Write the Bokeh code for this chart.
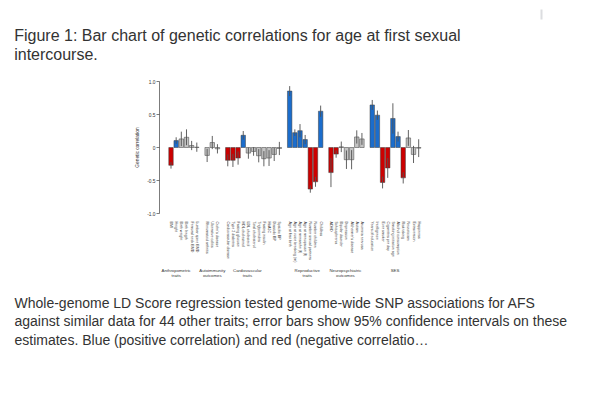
from bokeh.plotting import figure
from bokeh.models import Range1d, FixedTicker, Label, BoxAnnotation
from bokeh.embed import file_html
from bokeh.resources import INLINE

# ---------------- data ----------------
group_names = ["Anthropometric\ntraits", "Autoimmunity\noutcomes", "Cardiovascular\ntraits",
               "Reproductive\ntraits", "Neuropsychiatric\noutcomes", "SES"]
group_sizes = [6, 3, 11, 7, 7, 10]

trait_labels = [
    "BMI", "Height", "Birth weight", "Birth length", "Femoral neck BMD", "Lumbar spine BMD",
    "Rheumatoid arthritis", "Ulcerative colitis", "Crohn's disease",
    "Cardiovascular disease", "Type 2 diabetes", "Fasting glucose", "HDL cholesterol",
    "LDL cholesterol", "Total cholesterol", "Triglycerides", "Fasting insulin", "HbA1C",
    "Diastolic BP", "Systolic BP",
    "Age at first birth", "Age at voice breaking (m)", "Age at menarche (f)",
    "Age at menopause (f)", "Number sexual partners", "Number children", "Childless",
    "ADHD", "Schizophrenia", "Bipolar disorder", "Depression", "Alzheimer's disease",
    "Autism", "Anorexia nervosa",
    "Years of education", "Intelligence", "Ever smoker", "Cigarettes per day",
    "Smoking initiation age", "Alcohol consumption", "Risk taking", "Neuroticism",
    "Extraversion", "Happiness",
]

rg = [
    -0.27, 0.105, 0.13, 0.155, 0.03, 0.005,
    -0.12, 0.075, -0.02,
    -0.195, -0.195, -0.16, 0.185, -0.085, -0.06, -0.125, -0.17, -0.16, -0.105, -0.015,
    0.855, 0.225, 0.255, 0.12, -0.63, -0.52, 0.55,
    -0.38, -0.10, 0.01, -0.185, -0.185, 0.16, 0.13,
    0.645, 0.49, -0.53, -0.31, 0.44, 0.165, -0.46, 0.145, -0.105, -0.01,
]

ci95 = [
    0.05, 0.05, 0.11, 0.12, 0.07, 0.07,
    0.10, 0.10, 0.07,
    0.09, 0.10, 0.10, 0.065, 0.085, 0.065, 0.10, 0.115, 0.12, 0.10, 0.10,
    0.075, 0.05, 0.10, 0.07, 0.055, 0.075, 0.085,
    0.22, 0.055, 0.08, 0.14, 0.145, 0.10, 0.09,
    0.075, 0.07, 0.09, 0.15, 0.23, 0.075, 0.085, 0.12, 0.13, 0.135,
]

# "+" significant positive, "-" significant negative, "0" not significant
signif = [
    "-", "+", "0", "0", "0", "0",
    "0", "0", "0",
    "-", "-", "-", "+", "0", "0", "0", "0", "0", "0", "0",
    "+", "+", "+", "+", "-", "-", "+",
    "-", "-", "0", "0", "0", "0", "0",
    "+", "+", "-", "-", "+", "+", "-", "0", "0", "0",
]

y_ticks = [-1.0, -0.5, 0.0, 0.5, 1.0]
y_tick_labels = ["-1.0", "-0.5", "0", "0.5", "1.0"]

title_lines = ["Figure 1: Bar chart of genetic correlations for age at first sexual",
               "intercourse."]
caption_lines = [
    "Whole-genome LD Score regression tested genome-wide SNP associations for AFS",
    "against similar data for 44 other traits; error bars show 95% confidence intervals on these",
    "estimates. Blue (positive correlation) and red (negative correlatio\u2026",
]

# ---------------- layout helpers ----------------
slots = []
pos = 0
for size in group_sizes:
    for _ in range(size):
        slots.append(pos)
        pos += 1
    pos += 1  # gap between groups
group_label_x = [1.0, 8.0, 14.8, 26.4, 33.8, 43.4]

color_map = {"+": "#1b6dcc", "-": "#cc0000", "0": "#c4c4c4"}
colors = [color_map[s] for s in signif]
lo = [r - c for r, c in zip(rg, ci95)]
hi = [r + c for r, c in zip(rg, ci95)]

FONT = "Liberation Sans"
TXT = "#333333"
W = 592
H_TOP, H_CHART, H_BOT = 62, 203, 139

# chart frame: page x 159..430, y 81..214
X0, X1 = -2.23, 50.29
FRAME_L, FRAME_W = 159, 271
px_per_unit = FRAME_W / (X1 - X0)


def text_panel(height, x_range=None):
    f = figure(width=W, height=height, output_backend="svg", toolbar_location=None,
               x_axis_type=None, y_axis_type=None,
               x_range=x_range if x_range is not None else Range1d(0, W),
               y_range=Range1d(0, height),
               min_border=0, min_border_left=0, min_border_right=0,
               min_border_top=0, min_border_bottom=0)
    f.outline_line_color = None
    f.background_fill_color = "white"
    f.border_fill_color = "white"
    return f


# ---------------- title panel ----------------
pt = text_panel(H_TOP)
for k, line in enumerate(title_lines):
    pt.add_layout(Label(x=13.7, y=H_TOP - 35.3 - k * 19.0, x_units="screen", y_units="screen",
                        text=line, text_font=FONT, text_font_size="16px",
                        text_color=TXT, text_align="left", text_baseline="alphabetic"))
pt.add_layout(BoxAnnotation(left=540, right=542, top=H_TOP - 9, bottom=H_TOP - 19,
                            left_units="screen", right_units="screen",
                            top_units="screen", bottom_units="screen",
                            fill_color="#dcdde0", fill_alpha=1.0, line_color=None))

# ---------------- chart ----------------
p = figure(width=W, height=H_CHART, output_backend="svg", toolbar_location=None,
           x_range=Range1d(X0, X1), y_range=Range1d(-1.0, 1.0),
           min_border_left=FRAME_L, min_border_top=81 - H_TOP,
           min_border_bottom=H_CHART - (81 - H_TOP) - 133,
           min_border_right=W - FRAME_L - FRAME_W)
p.outline_line_color = None
p.xgrid.grid_line_color = None
p.ygrid.grid_line_color = None
p.background_fill_color = "white"
p.border_fill_color = "white"

p.vbar(x=slots, top=rg, bottom=0, width=0.86, fill_color=colors,
       line_color="#3a3a3a", line_width=0.5)
p.segment(x0=slots, y0=lo, x1=slots, y1=hi, line_color="#505050", line_width=0.9)

ya = p.yaxis[0]
ya.ticker = FixedTicker(ticks=y_ticks)
ya.major_label_overrides = {t: l for t, l in zip(y_ticks, y_tick_labels)}
ya.minor_tick_line_color = None
ya.major_tick_out = 3
ya.major_tick_in = 0
ya.axis_line_color = "#444444"
ya.axis_line_width = 0.7
ya.major_tick_line_color = "#444444"
ya.major_tick_line_width = 0.7
ya.major_label_text_font = FONT
ya.major_label_text_font_size = "4.8px"
ya.major_label_text_color = TXT
ya.major_label_standoff = 1
ya.axis_label = "Genetic correlation"
ya.axis_label_text_font = FONT
ya.axis_label_text_font_size = "4.8px"
ya.axis_label_text_font_style = "normal"
ya.axis_label_text_color = TXT
ya.axis_label_standoff = 4

xa = p.xaxis[0]
xa.ticker = FixedTicker(ticks=slots)
xa.major_label_overrides = {s: l for s, l in zip(slots, trait_labels)}
xa.major_label_orientation = "vertical"
xa.axis_line_color = None
xa.major_tick_line_color = None
xa.minor_tick_line_color = None
xa.major_label_text_font = FONT
xa.major_label_text_font_size = "3.6px"
xa.major_label_text_color = TXT
xa.major_label_standoff = 2

# ---------------- bottom panel (group labels + caption) ----------------
bx0 = X0 - FRAME_L / px_per_unit
pb = text_panel(H_BOT, x_range=Range1d(bx0, bx0 + W / px_per_unit))
for gx, name in zip(group_label_x, group_names):
    for k, line in enumerate(name.split("\n")):
        pb.add_layout(Label(x=gx, y=H_BOT - 5.0 - k * 5.2, x_units="data", y_units="screen",
                            text=line, text_font=FONT, text_font_size="4.3px",
                            text_color=TXT, text_align="center", text_baseline="middle"))
for k, line in enumerate(caption_lines):
    pb.add_layout(Label(x=14.0, y=H_BOT - (302.3 - (H_TOP + H_CHART)) - k * 18.65,
                        x_units="screen", y_units="screen",
                        text=line, text_font=FONT, text_font_size="14px",
                        text_color=TXT, text_align="left", text_baseline="alphabetic"))

# separate roots: stacked vertically on the page, frames not aligned to each other
open("out.html", "w").write(file_html([pt, p, pb], INLINE))
